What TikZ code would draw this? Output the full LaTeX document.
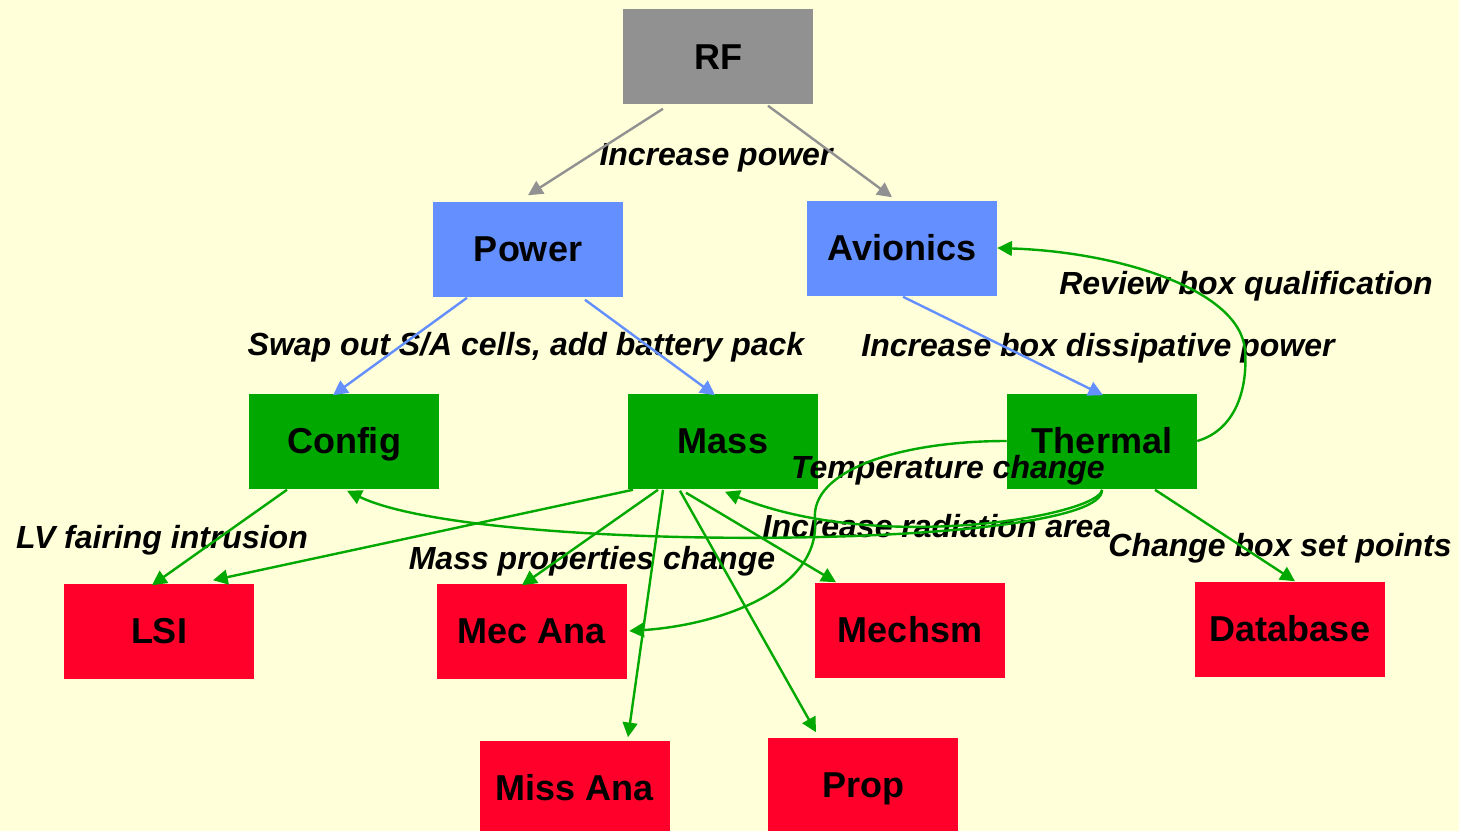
\documentclass[tikz,border=0pt]{standalone}
\usepackage{fontspec}
\setmainfont{Liberation Sans}
\usetikzlibrary{arrows.meta,calc}
\definecolor{bg}{RGB}{255,255,217}
\definecolor{cgray}{RGB}{145,145,145}
\definecolor{cblue}{RGB}{99,143,255}
\definecolor{cgreen}{RGB}{0,168,0}
\definecolor{cred}{RGB}{255,0,42}
\tikzset{
  box/.style={minimum width=142.5pt,minimum height=71.25pt,inner sep=0pt,
    font=\bfseries\fontsize{27}{32}\selectfont,text=black,
    text height=19.4pt,text depth=0pt},
  graybox/.style={box,fill=cgray},
  bluebox/.style={box,fill=cblue},
  greenbox/.style={box,fill=cgreen},
  redbox/.style={box,fill=cred},
  lbl/.style={font=\bfseries\itshape\fontsize{24}{28}\selectfont,text=black,inner sep=0pt,
    text height=17.2pt,text depth=0pt},
  conn/.style={line width=1.8pt,-{Triangle[length=11pt,width=11pt]}},
  gconn/.style={conn,draw=cgray},
  bconn/.style={conn,draw=cblue},
  grconn/.style={conn,draw=cgreen},
}
\begin{document}
\begin{tikzpicture}[x=0.75pt,y=-0.75pt]
\fill[bg] (0,0) rectangle (1459,831);
\useasboundingbox (0,0) rectangle (1459,831);
% nodes
\node[graybox] (rf) at (718,57) {RF};
\node[bluebox] (power) at (528,249) {Power};
\node[bluebox] (avionics) at (902,248) {Avionics};
\node[greenbox] (config) at (344,441) {Config};
\node[greenbox] (mass) at (723,441) {Mass};
\node[greenbox] (thermal) at (1102,441) {Thermal};
\node[redbox] (lsi) at (159,631) {LSI};
\node[redbox] (mecana) at (532,631) {Mec Ana};
\node[redbox] (mechsm) at (910,630) {Mechsm};
\node[redbox] (database) at (1290,629) {Database};
\node[redbox] (missana) at (575,788) {Miss Ana};
\node[redbox] (prop) at (863,785) {Prop};
% labels
\node[lbl] (l1) at (716,154) {Increase power};
\node[lbl] (l2) at (526,344) {Swap out S/A cells, add battery pack};
\node[lbl] (l3) at (1098,345) {Increase box dissipative power};
\node[lbl] (l4) at (1246,283) {Review box qualification};
\node[lbl] (l5) at (948,467) {Temperature change};
\node[lbl] (l6) at (937,526) {Increase radiation area};
\node[lbl] (l7) at (1280,545) {Change box set points};
\node[lbl] (l8) at (162,537) {LV fairing intrusion};
\node[lbl] (l9) at (592,558) {Mass properties change};
% gray connectors
\draw[gconn] ($(rf.south)+(-55,4)$) -- ($(power.north)+(0,-6)$);
\draw[gconn] ($(rf.south)+(50,1)$) -- ($(avionics.north)+(-10,-3)$);
% blue connectors
\draw[bconn] ($(power.south)+(-61,1)$) -- ($(config.north)+(-11,2)$);
\draw[bconn] ($(power.south)+(57,3)$) -- ($(mass.north)+(-8,2)$);
\draw[bconn] ($(avionics.south)+(1,1)$) -- ($(thermal.north)+(1,2)$);
% green connectors
\draw[grconn] (thermal.east) .. controls (1235,430) and (1248,390) .. (1245,350)
  .. controls (1240,290) and (1120,252) .. (avionics.east);
\draw[grconn] (thermal.west) .. controls (900,441) and (810,470) .. (815,520)
  .. controls (820,590) and (720,625) .. ($(mecana.east)+(2,0)$);
\draw[grconn] ($(thermal.south)+(0,1)$) .. controls (1100,515) and (880,555) .. ($(mass.south)+(2,3)$);
\draw[grconn] ($(thermal.south)+(0,1)$) .. controls (1105,550) and (480,555) .. ($(config.south)+(3,2)$);
\draw[grconn] ($(thermal.south)+(53,1)$) -- ($(database.north)+(5,0)$);
\draw[grconn] ($(config.south)+(-57,1)$) -- ($(lsi.north)+(-7,2)$);
\draw[grconn] ($(mass.south)+(-90,1)$) -- ($(lsi.north)+(54,-3)$);
\draw[grconn] ($(mass.south)+(-65,1)$) -- ($(mecana.north)+(-10,2)$);
\draw[grconn] ($(mass.south)+(-60,1)$) -- ($(missana.north)+(53,-3)$);
\draw[grconn] ($(mass.south)+(-43,2)$) -- ($(prop.north)+(-47,-5)$);
\draw[grconn] ($(mass.south)+(-37,4)$) -- ($(mechsm.north)+(-74,0)$);
\end{tikzpicture}
\end{document}
